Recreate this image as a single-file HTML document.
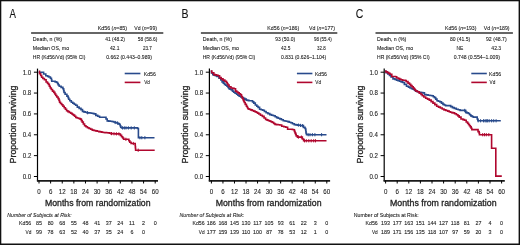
<!DOCTYPE html>
<html><head><meta charset="utf-8"><style>
html,body{margin:0;padding:0;background:#fff;}
body{width:520px;height:245px;overflow:hidden;}
svg{display:block;font-family:"Liberation Sans", sans-serif;will-change:transform;}
text{stroke:#222;stroke-width:0.1px;}
.big{stroke-width:0.3px;}
</style></head><body>
<svg width="520" height="245" viewBox="0 0 520 245">
<rect x="0" y="0" width="520" height="245" fill="#fff"/>
<text x="9.43" y="18.40" font-size="12.4" textLength="6.44" lengthAdjust="spacingAndGlyphs" fill="#111">A</text>
<line x1="31.10" y1="33.00" x2="163.30" y2="33.00" stroke="#333" stroke-width="1.4"/>
<text x="97.81" y="29.80" font-size="6.2" textLength="29.26" lengthAdjust="spacingAndGlyphs" fill="#222">Kd56 (<tspan font-style="italic">n</tspan>=85)</text>
<text x="134.22" y="29.80" font-size="6.2" textLength="22.74" lengthAdjust="spacingAndGlyphs" fill="#222">Vd (<tspan font-style="italic">n</tspan>=99)</text>
<text x="32.82" y="40.60" font-size="6.2" textLength="29.26" lengthAdjust="spacingAndGlyphs" fill="#222">Death, n (%)</text>
<text x="32.82" y="49.70" font-size="6.2" textLength="36.24" lengthAdjust="spacingAndGlyphs" fill="#222">Median OS, mo</text>
<text x="32.84" y="58.50" font-size="6.2" textLength="52.53" lengthAdjust="spacingAndGlyphs" fill="#222">HR (Kd56/Vd) (95% CI)</text>
<text x="105.24" y="40.60" font-size="6.2" textLength="19.72" lengthAdjust="spacingAndGlyphs" fill="#222">41 (48.2)</text>
<text x="137.86" y="40.60" font-size="6.2" textLength="19.40" lengthAdjust="spacingAndGlyphs" fill="#222">58 (58.6)</text>
<text x="109.89" y="49.70" font-size="6.2" textLength="9.50" lengthAdjust="spacingAndGlyphs" fill="#222">42.1</text>
<text x="142.92" y="49.70" font-size="6.2" textLength="8.97" lengthAdjust="spacingAndGlyphs" fill="#222">23.7</text>
<text x="106.30" y="58.50" font-size="6.2" textLength="45.67" lengthAdjust="spacingAndGlyphs" fill="#222">0.662 (0.443–0.989)</text>
<line x1="37.50" y1="68.60" x2="37.50" y2="181.30" stroke="#000" stroke-width="1.2"/>
<line x1="36.90" y1="180.90" x2="158.00" y2="180.90" stroke="#1a1a1a" stroke-width="1.6"/>
<line x1="33.90" y1="176.50" x2="37.50" y2="176.50" stroke="#000" stroke-width="1.0"/>
<text x="22.72" y="178.80" font-size="6.8" textLength="8.51" lengthAdjust="spacingAndGlyphs" fill="#222">0.0</text>
<line x1="33.90" y1="155.64" x2="37.50" y2="155.64" stroke="#000" stroke-width="1.0"/>
<text x="22.80" y="157.94" font-size="6.8" textLength="8.51" lengthAdjust="spacingAndGlyphs" fill="#222">0.2</text>
<line x1="33.90" y1="134.78" x2="37.50" y2="134.78" stroke="#000" stroke-width="1.0"/>
<text x="22.66" y="137.08" font-size="6.8" textLength="8.51" lengthAdjust="spacingAndGlyphs" fill="#222">0.4</text>
<line x1="33.90" y1="113.92" x2="37.50" y2="113.92" stroke="#000" stroke-width="1.0"/>
<text x="22.75" y="116.22" font-size="6.8" textLength="8.51" lengthAdjust="spacingAndGlyphs" fill="#222">0.6</text>
<line x1="33.90" y1="93.06" x2="37.50" y2="93.06" stroke="#000" stroke-width="1.0"/>
<text x="22.75" y="95.36" font-size="6.8" textLength="8.51" lengthAdjust="spacingAndGlyphs" fill="#222">0.8</text>
<line x1="33.90" y1="72.20" x2="37.50" y2="72.20" stroke="#000" stroke-width="1.0"/>
<text x="22.72" y="74.50" font-size="6.8" textLength="8.51" lengthAdjust="spacingAndGlyphs" fill="#222">1.0</text>
<line x1="39.00" y1="180.70" x2="39.00" y2="183.50" stroke="#000" stroke-width="1.0"/>
<text x="37.28" y="193.60" font-size="7.0" textLength="3.43" lengthAdjust="spacingAndGlyphs" fill="#222">0</text>
<line x1="50.62" y1="180.70" x2="50.62" y2="183.50" stroke="#000" stroke-width="1.0"/>
<text x="48.89" y="193.60" font-size="7.0" textLength="3.43" lengthAdjust="spacingAndGlyphs" fill="#222">6</text>
<line x1="62.24" y1="180.70" x2="62.24" y2="183.50" stroke="#000" stroke-width="1.0"/>
<text x="58.74" y="193.60" font-size="7.0" textLength="6.85" lengthAdjust="spacingAndGlyphs" fill="#222">12</text>
<line x1="73.86" y1="180.70" x2="73.86" y2="183.50" stroke="#000" stroke-width="1.0"/>
<text x="70.34" y="193.60" font-size="7.0" textLength="6.85" lengthAdjust="spacingAndGlyphs" fill="#222">18</text>
<line x1="85.48" y1="180.70" x2="85.48" y2="183.50" stroke="#000" stroke-width="1.0"/>
<text x="81.99" y="193.60" font-size="7.0" textLength="6.85" lengthAdjust="spacingAndGlyphs" fill="#222">24</text>
<line x1="97.10" y1="180.70" x2="97.10" y2="183.50" stroke="#000" stroke-width="1.0"/>
<text x="93.68" y="193.60" font-size="7.0" textLength="6.85" lengthAdjust="spacingAndGlyphs" fill="#222">30</text>
<line x1="108.72" y1="180.70" x2="108.72" y2="183.50" stroke="#000" stroke-width="1.0"/>
<text x="105.32" y="193.60" font-size="7.0" textLength="6.85" lengthAdjust="spacingAndGlyphs" fill="#222">36</text>
<line x1="120.34" y1="180.70" x2="120.34" y2="183.50" stroke="#000" stroke-width="1.0"/>
<text x="117.01" y="193.60" font-size="7.0" textLength="6.85" lengthAdjust="spacingAndGlyphs" fill="#222">42</text>
<line x1="131.96" y1="180.70" x2="131.96" y2="183.50" stroke="#000" stroke-width="1.0"/>
<text x="128.60" y="193.60" font-size="7.0" textLength="6.85" lengthAdjust="spacingAndGlyphs" fill="#222">48</text>
<line x1="143.58" y1="180.70" x2="143.58" y2="183.50" stroke="#000" stroke-width="1.0"/>
<text x="140.12" y="193.60" font-size="7.0" textLength="6.85" lengthAdjust="spacingAndGlyphs" fill="#222">54</text>
<line x1="155.20" y1="180.70" x2="155.20" y2="183.50" stroke="#000" stroke-width="1.0"/>
<text x="151.74" y="193.60" font-size="7.0" textLength="6.85" lengthAdjust="spacingAndGlyphs" fill="#222">60</text>
<text x="44.93" y="205.90" font-size="9.4" textLength="105.60" lengthAdjust="spacingAndGlyphs" fill="#222" class="big">Months from randomization</text>
<text transform="translate(16.30,163.43) rotate(-90)" x="0" y="0" font-size="9.4" textLength="77.88" lengthAdjust="spacingAndGlyphs" fill="#222" class="big">Proportion surviving</text>
<line x1="124.70" y1="73.50" x2="140.40" y2="73.50" stroke="#284a8c" stroke-width="1.6"/>
<line x1="124.70" y1="82.40" x2="140.40" y2="82.40" stroke="#b0072e" stroke-width="1.6"/>
<text x="143.82" y="75.70" font-size="6.2" textLength="12.05" lengthAdjust="spacingAndGlyphs" fill="#222">Kd56</text>
<text x="144.23" y="84.20" font-size="6.2" textLength="5.72" lengthAdjust="spacingAndGlyphs" fill="#222">Vd</text>
<text x="7.29" y="216.60" font-size="6.2" textLength="64.47" lengthAdjust="spacingAndGlyphs" fill="#222" font-style="italic">Number of Subjects at Risk:</text>
<text x="19.12" y="225.40" font-size="6.2" textLength="12.15" lengthAdjust="spacingAndGlyphs" fill="#222">Kd56</text>
<text x="25.53" y="234.30" font-size="6.2" textLength="5.82" lengthAdjust="spacingAndGlyphs" fill="#222">Vd</text>
<text x="36.01" y="225.40" font-size="6.1" textLength="5.97" lengthAdjust="spacingAndGlyphs" fill="#222">85</text>
<text x="47.63" y="225.40" font-size="6.1" textLength="5.97" lengthAdjust="spacingAndGlyphs" fill="#222">80</text>
<text x="59.24" y="225.40" font-size="6.1" textLength="5.97" lengthAdjust="spacingAndGlyphs" fill="#222">68</text>
<text x="70.88" y="225.40" font-size="6.1" textLength="5.97" lengthAdjust="spacingAndGlyphs" fill="#222">55</text>
<text x="82.55" y="225.40" font-size="6.1" textLength="5.97" lengthAdjust="spacingAndGlyphs" fill="#222">48</text>
<text x="94.19" y="225.40" font-size="6.1" textLength="5.97" lengthAdjust="spacingAndGlyphs" fill="#222">41</text>
<text x="105.77" y="225.40" font-size="6.1" textLength="5.97" lengthAdjust="spacingAndGlyphs" fill="#222">37</text>
<text x="117.30" y="225.40" font-size="6.1" textLength="5.97" lengthAdjust="spacingAndGlyphs" fill="#222">24</text>
<text x="129.10" y="225.40" font-size="6.1" textLength="5.57" lengthAdjust="spacingAndGlyphs" fill="#222">11</text>
<text x="142.09" y="225.40" font-size="6.1" textLength="2.99" lengthAdjust="spacingAndGlyphs" fill="#222">2</text>
<text x="153.70" y="225.40" font-size="6.1" textLength="2.99" lengthAdjust="spacingAndGlyphs" fill="#222">0</text>
<text x="36.01" y="234.30" font-size="6.1" textLength="5.97" lengthAdjust="spacingAndGlyphs" fill="#222">99</text>
<text x="47.61" y="234.30" font-size="6.1" textLength="5.97" lengthAdjust="spacingAndGlyphs" fill="#222">78</text>
<text x="59.24" y="234.30" font-size="6.1" textLength="5.97" lengthAdjust="spacingAndGlyphs" fill="#222">63</text>
<text x="70.91" y="234.30" font-size="6.1" textLength="5.97" lengthAdjust="spacingAndGlyphs" fill="#222">52</text>
<text x="82.54" y="234.30" font-size="6.1" textLength="5.97" lengthAdjust="spacingAndGlyphs" fill="#222">40</text>
<text x="94.15" y="234.30" font-size="6.1" textLength="5.97" lengthAdjust="spacingAndGlyphs" fill="#222">37</text>
<text x="105.75" y="234.30" font-size="6.1" textLength="5.97" lengthAdjust="spacingAndGlyphs" fill="#222">35</text>
<text x="117.30" y="234.30" font-size="6.1" textLength="5.97" lengthAdjust="spacingAndGlyphs" fill="#222">24</text>
<text x="130.45" y="234.30" font-size="6.1" textLength="2.99" lengthAdjust="spacingAndGlyphs" fill="#222">6</text>
<text x="142.08" y="234.30" font-size="6.1" textLength="2.99" lengthAdjust="spacingAndGlyphs" fill="#222">0</text>
<path d="M38.60,72.30 L42.60,72.30 L42.60,72.30 L43.60,72.30 L43.60,74.00 L44.60,74.00 L45.80,74.00 L45.80,75.80 L47.00,75.80 L47.62,75.80 L47.62,76.40 L48.88,76.40 L48.88,77.00 L49.50,77.00 L50.40,77.00 L50.40,78.20 L51.30,78.20 L51.45,78.20 L51.45,79.75 L51.75,79.75 L51.75,81.30 L51.90,81.30 L54.40,81.30 L54.40,81.30 L55.15,81.30 L55.15,81.90 L56.65,81.90 L56.65,82.50 L57.40,82.50 L57.70,82.50 L57.70,83.75 L58.30,83.75 L58.30,85.00 L58.60,85.00 L59.25,85.00 L59.25,86.20 L59.90,86.20 L61.10,86.20 L61.10,87.40 L62.30,87.40 L62.90,87.40 L62.90,88.70 L63.50,88.70 L63.67,88.70 L63.67,90.60 L64.03,90.60 L64.03,92.50 L64.20,92.50 L65.10,92.50 L65.10,94.30 L66.90,94.30 L66.90,96.10 L67.80,96.10 L68.10,96.10 L68.10,97.65 L68.70,97.65 L68.70,99.20 L69.00,99.20 L69.78,99.20 L69.78,100.70 L71.32,100.70 L71.32,102.20 L72.10,102.20 L72.82,102.20 L72.82,103.23 L74.25,103.23 L74.25,104.27 L75.68,104.27 L75.68,105.30 L76.40,105.30 L77.30,105.30 L77.30,107.10 L78.20,107.10 L79.12,107.10 L79.12,108.35 L80.98,108.35 L80.98,109.60 L81.90,109.60 L82.50,109.60 L82.50,111.40 L83.10,111.40 L83.82,111.40 L83.82,111.83 L85.25,111.83 L85.25,112.27 L86.68,112.27 L86.68,112.70 L87.40,112.70 L88.22,112.70 L88.22,112.87 L89.85,112.87 L89.85,113.03 L91.48,113.03 L91.48,113.20 L92.30,113.20 L92.92,113.20 L92.92,113.55 L94.17,113.55 L94.17,113.90 L94.80,113.90 L95.80,113.90 L95.80,115.40 L96.80,115.40 L97.72,115.40 L97.72,116.30 L99.58,116.30 L99.58,117.20 L100.50,117.20 L105.40,117.20 L105.40,117.20 L106.00,117.20 L106.00,119.05 L107.20,119.05 L107.20,120.90 L107.80,120.90 L108.62,120.90 L108.62,121.10 L110.25,121.10 L110.25,121.30 L111.88,121.30 L111.88,121.50 L112.70,121.50 L113.47,121.50 L113.47,122.00 L115.00,122.00 L115.00,122.50 L116.53,122.50 L116.53,123.00 L117.30,123.00 L117.92,123.00 L117.92,123.60 L119.17,123.60 L119.17,124.20 L119.80,124.20 L120.10,124.20 L120.10,125.70 L120.70,125.70 L120.70,127.20 L121.00,127.20 L121.60,127.20 L121.60,127.90 L122.20,127.90 L136.90,127.90 L136.90,127.90 L137.55,127.90 L137.55,128.50 L138.20,128.50 L138.40,128.50 L138.40,137.70 L154.50,137.70 L154.50,137.70" fill="none" stroke="#284a8c" stroke-width="1.6"/>
<line x1="87.60" y1="111.10" x2="87.60" y2="114.30" stroke="#284a8c" stroke-width="1.0"/>
<line x1="115.20" y1="120.90" x2="115.20" y2="124.10" stroke="#284a8c" stroke-width="1.0"/>
<line x1="117.60" y1="121.40" x2="117.60" y2="124.60" stroke="#284a8c" stroke-width="1.0"/>
<line x1="122.50" y1="126.30" x2="122.50" y2="129.50" stroke="#284a8c" stroke-width="1.0"/>
<line x1="124.30" y1="126.30" x2="124.30" y2="129.50" stroke="#284a8c" stroke-width="1.0"/>
<line x1="126.00" y1="126.30" x2="126.00" y2="129.50" stroke="#284a8c" stroke-width="1.0"/>
<line x1="128.40" y1="126.30" x2="128.40" y2="129.50" stroke="#284a8c" stroke-width="1.0"/>
<line x1="131.20" y1="126.30" x2="131.20" y2="129.50" stroke="#284a8c" stroke-width="1.0"/>
<line x1="134.30" y1="126.30" x2="134.30" y2="129.50" stroke="#284a8c" stroke-width="1.0"/>
<line x1="139.90" y1="136.10" x2="139.90" y2="139.30" stroke="#284a8c" stroke-width="1.0"/>
<line x1="141.80" y1="136.10" x2="141.80" y2="139.30" stroke="#284a8c" stroke-width="1.0"/>
<line x1="144.90" y1="136.10" x2="144.90" y2="139.30" stroke="#284a8c" stroke-width="1.0"/>
<path d="M38.80,71.40 L39.50,71.40 L39.50,73.80 L40.20,73.80 L40.68,73.80 L40.68,75.50 L41.62,75.50 L41.62,77.20 L42.10,77.20 L42.85,77.20 L42.85,78.50 L43.60,78.50 L44.40,78.50 L44.40,79.80 L45.20,79.80 L46.10,79.80 L46.10,82.00 L47.00,82.00 L47.48,82.00 L47.48,83.20 L48.42,83.20 L48.42,84.40 L48.90,84.40 L49.35,84.40 L49.35,86.20 L50.25,86.20 L50.25,88.00 L50.70,88.00 L51.30,88.00 L51.30,89.55 L52.50,89.55 L52.50,91.10 L53.10,91.10 L53.75,91.10 L53.75,92.40 L54.40,92.40 L54.85,92.40 L54.85,93.95 L55.75,93.95 L55.75,95.50 L56.20,95.50 L56.83,95.50 L56.83,97.05 L58.08,97.05 L58.08,98.60 L58.70,98.60 L59.00,98.60 L59.00,100.40 L59.60,100.40 L59.60,102.20 L59.90,102.20 L60.50,102.20 L60.50,103.45 L61.70,103.45 L61.70,104.70 L62.30,104.70 L62.92,104.70 L62.92,106.25 L64.17,106.25 L64.17,107.80 L64.80,107.80 L65.40,107.80 L65.40,109.30 L66.60,109.30 L66.60,110.80 L67.20,110.80 L67.92,110.80 L67.92,111.63 L69.35,111.63 L69.35,112.47 L70.78,112.47 L70.78,113.30 L71.50,113.30 L72.12,113.30 L72.12,114.20 L73.38,114.20 L73.38,115.10 L74.00,115.10 L74.60,115.10 L74.60,116.30 L75.80,116.30 L75.80,117.50 L76.40,117.50 L77.15,117.50 L77.15,118.03 L78.65,118.03 L78.65,118.57 L80.15,118.57 L80.15,119.10 L80.90,119.10 L81.35,119.10 L81.35,120.60 L82.25,120.60 L82.25,122.10 L82.70,122.10 L83.33,122.10 L83.33,123.95 L84.58,123.95 L84.58,125.80 L85.20,125.80 L85.95,125.80 L85.95,126.75 L87.45,126.75 L87.45,127.70 L88.20,127.70 L89.02,127.70 L89.02,128.50 L90.65,128.50 L90.65,129.30 L92.28,129.30 L92.28,130.10 L93.10,130.10 L93.92,130.10 L93.92,130.50 L95.55,130.50 L95.55,130.90 L97.18,130.90 L97.18,131.30 L98.00,131.30 L98.78,131.30 L98.78,131.60 L100.33,131.60 L100.33,131.90 L101.88,131.90 L101.88,132.20 L103.42,132.20 L103.42,132.50 L104.20,132.50 L105.02,132.50 L105.02,132.63 L106.65,132.63 L106.65,132.77 L108.28,132.77 L108.28,132.90 L109.10,132.90 L109.70,132.90 L109.70,133.25 L110.90,133.25 L110.90,133.60 L111.50,133.60 L112.33,133.60 L112.33,133.68 L113.99,133.68 L113.99,133.76 L115.65,133.76 L115.65,133.84 L117.31,133.84 L117.31,133.92 L118.97,133.92 L118.97,134.00 L119.80,134.00 L120.40,134.00 L120.40,135.35 L121.60,135.35 L121.60,136.70 L122.20,136.70 L122.67,136.70 L122.67,138.00 L123.62,138.00 L123.62,139.30 L124.10,139.30 L128.40,139.30 L128.40,139.30 L128.85,139.30 L128.85,140.75 L129.75,140.75 L129.75,142.20 L130.20,142.20 L131.10,142.20 L131.10,143.50 L132.00,143.50 L135.10,143.50 L135.10,143.50 L135.17,143.50 L135.17,145.18 L135.32,145.18 L135.32,146.85 L135.47,146.85 L135.47,148.52 L135.62,148.52 L135.62,150.20 L135.70,150.20 L154.70,150.20 L154.70,150.20" fill="none" stroke="#b0072e" stroke-width="1.6"/>
<line x1="111.50" y1="132.00" x2="111.50" y2="135.20" stroke="#b0072e" stroke-width="1.0"/>
<line x1="114.00" y1="132.16" x2="114.00" y2="135.36" stroke="#b0072e" stroke-width="1.0"/>
<line x1="116.40" y1="132.24" x2="116.40" y2="135.44" stroke="#b0072e" stroke-width="1.0"/>
<line x1="118.90" y1="132.32" x2="118.90" y2="135.52" stroke="#b0072e" stroke-width="1.0"/>
<line x1="125.90" y1="137.70" x2="125.90" y2="140.90" stroke="#b0072e" stroke-width="1.0"/>
<line x1="133.30" y1="141.90" x2="133.30" y2="145.10" stroke="#b0072e" stroke-width="1.0"/>
<line x1="138.20" y1="148.60" x2="138.20" y2="151.80" stroke="#b0072e" stroke-width="1.0"/>
<text x="181.38" y="18.40" font-size="12.4" textLength="7.01" lengthAdjust="spacingAndGlyphs" fill="#111">B</text>
<line x1="200.90" y1="33.00" x2="337.30" y2="33.00" stroke="#333" stroke-width="1.4"/>
<text x="267.32" y="29.80" font-size="6.2" textLength="31.96" lengthAdjust="spacingAndGlyphs" fill="#222">Kd56 (<tspan font-style="italic">n</tspan>=186)</text>
<text x="309.02" y="29.80" font-size="6.2" textLength="25.96" lengthAdjust="spacingAndGlyphs" fill="#222">Vd (<tspan font-style="italic">n</tspan>=177)</text>
<text x="202.72" y="40.60" font-size="6.2" textLength="29.26" lengthAdjust="spacingAndGlyphs" fill="#222">Death, n (%)</text>
<text x="202.72" y="49.70" font-size="6.2" textLength="36.24" lengthAdjust="spacingAndGlyphs" fill="#222">Median OS, mo</text>
<text x="202.74" y="58.50" font-size="6.2" textLength="52.53" lengthAdjust="spacingAndGlyphs" fill="#222">HR (Kd56/Vd) (95% CI)</text>
<text x="275.21" y="40.60" font-size="6.2" textLength="19.85" lengthAdjust="spacingAndGlyphs" fill="#222">93 (50.0)</text>
<text x="313.94" y="40.60" font-size="6.2" textLength="17.79" lengthAdjust="spacingAndGlyphs" fill="#222">98 (55.4)</text>
<text x="281.04" y="49.70" font-size="6.2" textLength="9.31" lengthAdjust="spacingAndGlyphs" fill="#222">42.5</text>
<text x="317.09" y="49.70" font-size="6.2" textLength="8.56" lengthAdjust="spacingAndGlyphs" fill="#222">32.8</text>
<text x="280.95" y="58.50" font-size="6.2" textLength="45.32" lengthAdjust="spacingAndGlyphs" fill="#222">0.831 (0.626–1.104)</text>
<line x1="209.40" y1="68.60" x2="209.40" y2="181.30" stroke="#000" stroke-width="1.2"/>
<line x1="208.80" y1="180.90" x2="330.10" y2="180.90" stroke="#1a1a1a" stroke-width="1.6"/>
<line x1="205.80" y1="176.50" x2="209.40" y2="176.50" stroke="#000" stroke-width="1.0"/>
<text x="194.62" y="178.80" font-size="6.8" textLength="8.51" lengthAdjust="spacingAndGlyphs" fill="#222">0.0</text>
<line x1="205.80" y1="155.64" x2="209.40" y2="155.64" stroke="#000" stroke-width="1.0"/>
<text x="194.70" y="157.94" font-size="6.8" textLength="8.51" lengthAdjust="spacingAndGlyphs" fill="#222">0.2</text>
<line x1="205.80" y1="134.78" x2="209.40" y2="134.78" stroke="#000" stroke-width="1.0"/>
<text x="194.56" y="137.08" font-size="6.8" textLength="8.51" lengthAdjust="spacingAndGlyphs" fill="#222">0.4</text>
<line x1="205.80" y1="113.92" x2="209.40" y2="113.92" stroke="#000" stroke-width="1.0"/>
<text x="194.65" y="116.22" font-size="6.8" textLength="8.51" lengthAdjust="spacingAndGlyphs" fill="#222">0.6</text>
<line x1="205.80" y1="93.06" x2="209.40" y2="93.06" stroke="#000" stroke-width="1.0"/>
<text x="194.65" y="95.36" font-size="6.8" textLength="8.51" lengthAdjust="spacingAndGlyphs" fill="#222">0.8</text>
<line x1="205.80" y1="72.20" x2="209.40" y2="72.20" stroke="#000" stroke-width="1.0"/>
<text x="194.62" y="74.50" font-size="6.8" textLength="8.51" lengthAdjust="spacingAndGlyphs" fill="#222">1.0</text>
<line x1="211.40" y1="180.70" x2="211.40" y2="183.50" stroke="#000" stroke-width="1.0"/>
<text x="209.68" y="193.60" font-size="7.0" textLength="3.43" lengthAdjust="spacingAndGlyphs" fill="#222">0</text>
<line x1="222.94" y1="180.70" x2="222.94" y2="183.50" stroke="#000" stroke-width="1.0"/>
<text x="221.21" y="193.60" font-size="7.0" textLength="3.43" lengthAdjust="spacingAndGlyphs" fill="#222">6</text>
<line x1="234.48" y1="180.70" x2="234.48" y2="183.50" stroke="#000" stroke-width="1.0"/>
<text x="230.98" y="193.60" font-size="7.0" textLength="6.85" lengthAdjust="spacingAndGlyphs" fill="#222">12</text>
<line x1="246.02" y1="180.70" x2="246.02" y2="183.50" stroke="#000" stroke-width="1.0"/>
<text x="242.50" y="193.60" font-size="7.0" textLength="6.85" lengthAdjust="spacingAndGlyphs" fill="#222">18</text>
<line x1="257.56" y1="180.70" x2="257.56" y2="183.50" stroke="#000" stroke-width="1.0"/>
<text x="254.07" y="193.60" font-size="7.0" textLength="6.85" lengthAdjust="spacingAndGlyphs" fill="#222">24</text>
<line x1="269.10" y1="180.70" x2="269.10" y2="183.50" stroke="#000" stroke-width="1.0"/>
<text x="265.68" y="193.60" font-size="7.0" textLength="6.85" lengthAdjust="spacingAndGlyphs" fill="#222">30</text>
<line x1="280.64" y1="180.70" x2="280.64" y2="183.50" stroke="#000" stroke-width="1.0"/>
<text x="277.24" y="193.60" font-size="7.0" textLength="6.85" lengthAdjust="spacingAndGlyphs" fill="#222">36</text>
<line x1="292.18" y1="180.70" x2="292.18" y2="183.50" stroke="#000" stroke-width="1.0"/>
<text x="288.85" y="193.60" font-size="7.0" textLength="6.85" lengthAdjust="spacingAndGlyphs" fill="#222">42</text>
<line x1="303.72" y1="180.70" x2="303.72" y2="183.50" stroke="#000" stroke-width="1.0"/>
<text x="300.36" y="193.60" font-size="7.0" textLength="6.85" lengthAdjust="spacingAndGlyphs" fill="#222">48</text>
<line x1="315.26" y1="180.70" x2="315.26" y2="183.50" stroke="#000" stroke-width="1.0"/>
<text x="311.80" y="193.60" font-size="7.0" textLength="6.85" lengthAdjust="spacingAndGlyphs" fill="#222">54</text>
<line x1="326.80" y1="180.70" x2="326.80" y2="183.50" stroke="#000" stroke-width="1.0"/>
<text x="323.34" y="193.60" font-size="7.0" textLength="6.85" lengthAdjust="spacingAndGlyphs" fill="#222">60</text>
<text x="215.73" y="205.90" font-size="9.4" textLength="105.80" lengthAdjust="spacingAndGlyphs" fill="#222" class="big">Months from randomization</text>
<text transform="translate(188.20,163.43) rotate(-90)" x="0" y="0" font-size="9.4" textLength="77.88" lengthAdjust="spacingAndGlyphs" fill="#222" class="big">Proportion surviving</text>
<line x1="296.90" y1="73.50" x2="312.40" y2="73.50" stroke="#284a8c" stroke-width="1.6"/>
<line x1="296.90" y1="82.40" x2="312.40" y2="82.40" stroke="#b0072e" stroke-width="1.6"/>
<text x="314.92" y="75.70" font-size="6.2" textLength="12.05" lengthAdjust="spacingAndGlyphs" fill="#222">Kd56</text>
<text x="315.33" y="84.20" font-size="6.2" textLength="5.72" lengthAdjust="spacingAndGlyphs" fill="#222">Vd</text>
<text x="179.59" y="216.60" font-size="6.2" textLength="64.67" lengthAdjust="spacingAndGlyphs" fill="#222" font-style="italic">Number of Subjects at Risk:</text>
<text x="192.42" y="225.40" font-size="6.2" textLength="12.15" lengthAdjust="spacingAndGlyphs" fill="#222">Kd56</text>
<text x="198.83" y="234.30" font-size="6.2" textLength="5.82" lengthAdjust="spacingAndGlyphs" fill="#222">Vd</text>
<text x="206.84" y="225.40" font-size="6.1" textLength="8.96" lengthAdjust="spacingAndGlyphs" fill="#222">186</text>
<text x="218.38" y="225.40" font-size="6.1" textLength="8.96" lengthAdjust="spacingAndGlyphs" fill="#222">168</text>
<text x="229.91" y="225.40" font-size="6.1" textLength="8.96" lengthAdjust="spacingAndGlyphs" fill="#222">145</text>
<text x="241.44" y="225.40" font-size="6.1" textLength="8.96" lengthAdjust="spacingAndGlyphs" fill="#222">130</text>
<text x="253.22" y="225.40" font-size="6.1" textLength="8.56" lengthAdjust="spacingAndGlyphs" fill="#222">117</text>
<text x="264.53" y="225.40" font-size="6.1" textLength="8.96" lengthAdjust="spacingAndGlyphs" fill="#222">105</text>
<text x="277.65" y="225.40" font-size="6.1" textLength="5.97" lengthAdjust="spacingAndGlyphs" fill="#222">93</text>
<text x="289.19" y="225.40" font-size="6.1" textLength="5.97" lengthAdjust="spacingAndGlyphs" fill="#222">61</text>
<text x="300.74" y="225.40" font-size="6.1" textLength="5.97" lengthAdjust="spacingAndGlyphs" fill="#222">22</text>
<text x="313.78" y="225.40" font-size="6.1" textLength="2.99" lengthAdjust="spacingAndGlyphs" fill="#222">3</text>
<text x="325.30" y="225.40" font-size="6.1" textLength="2.99" lengthAdjust="spacingAndGlyphs" fill="#222">0</text>
<text x="206.86" y="234.30" font-size="6.1" textLength="8.96" lengthAdjust="spacingAndGlyphs" fill="#222">177</text>
<text x="218.38" y="234.30" font-size="6.1" textLength="8.96" lengthAdjust="spacingAndGlyphs" fill="#222">159</text>
<text x="229.92" y="234.30" font-size="6.1" textLength="8.96" lengthAdjust="spacingAndGlyphs" fill="#222">139</text>
<text x="241.65" y="234.30" font-size="6.1" textLength="8.56" lengthAdjust="spacingAndGlyphs" fill="#222">110</text>
<text x="252.98" y="234.30" font-size="6.1" textLength="8.96" lengthAdjust="spacingAndGlyphs" fill="#222">100</text>
<text x="266.14" y="234.30" font-size="6.1" textLength="5.97" lengthAdjust="spacingAndGlyphs" fill="#222">87</text>
<text x="277.63" y="234.30" font-size="6.1" textLength="5.97" lengthAdjust="spacingAndGlyphs" fill="#222">78</text>
<text x="289.21" y="234.30" font-size="6.1" textLength="5.97" lengthAdjust="spacingAndGlyphs" fill="#222">53</text>
<text x="300.67" y="234.30" font-size="6.1" textLength="5.97" lengthAdjust="spacingAndGlyphs" fill="#222">12</text>
<text x="313.70" y="234.30" font-size="6.1" textLength="2.99" lengthAdjust="spacingAndGlyphs" fill="#222">1</text>
<text x="325.30" y="234.30" font-size="6.1" textLength="2.99" lengthAdjust="spacingAndGlyphs" fill="#222">0</text>
<path d="M210.70,71.40 L211.40,71.40 L211.40,73.00 L212.80,73.00 L212.80,74.60 L213.50,74.60 L214.12,74.60 L214.12,75.20 L215.38,75.20 L215.38,75.80 L216.00,75.80 L216.90,75.80 L216.90,76.40 L217.80,76.40 L219.00,76.40 L219.00,78.20 L220.20,78.20 L220.82,78.20 L220.82,80.05 L222.07,80.05 L222.07,81.90 L222.70,81.90 L223.30,81.90 L223.30,83.15 L224.50,83.15 L224.50,84.40 L225.10,84.40 L225.72,84.40 L225.72,85.30 L226.97,85.30 L226.97,86.20 L227.60,86.20 L228.05,86.20 L228.05,87.45 L228.95,87.45 L228.95,88.70 L229.40,88.70 L230.03,88.70 L230.03,89.30 L231.28,89.30 L231.28,89.90 L231.90,89.90 L232.50,89.90 L232.50,91.10 L233.70,91.10 L233.70,92.30 L234.30,92.30 L235.08,92.30 L235.08,93.25 L236.62,93.25 L236.62,94.20 L237.40,94.20 L237.90,94.20 L237.90,95.20 L238.40,95.20 L239.18,95.20 L239.18,96.10 L240.72,96.10 L240.72,97.00 L241.50,97.00 L242.12,97.00 L242.12,97.60 L243.38,97.60 L243.38,98.20 L244.00,98.20 L244.75,98.20 L244.75,99.15 L246.25,99.15 L246.25,100.10 L247.00,100.10 L247.62,100.10 L247.62,100.40 L248.88,100.40 L248.88,100.70 L249.50,100.70 L251.90,100.70 L251.90,100.70 L252.53,100.70 L252.53,101.90 L253.78,101.90 L253.78,103.10 L254.40,103.10 L255.30,103.10 L255.30,105.00 L256.20,105.00 L256.82,105.00 L256.82,106.20 L258.07,106.20 L258.07,107.40 L258.70,107.40 L259.60,107.40 L259.60,109.30 L260.50,109.30 L261.25,109.30 L261.25,109.75 L262.75,109.75 L262.75,110.20 L263.50,110.20 L264.38,110.20 L264.38,111.45 L266.12,111.45 L266.12,112.70 L267.00,112.70 L267.93,112.70 L267.93,113.65 L269.77,113.65 L269.77,114.60 L270.70,114.60 L271.62,114.60 L271.62,115.20 L273.47,115.20 L273.47,115.80 L274.40,115.80 L275.15,115.80 L275.15,116.70 L276.65,116.70 L276.65,117.60 L277.40,117.60 L278.17,117.60 L278.17,118.25 L279.73,118.25 L279.73,118.90 L280.50,118.90 L281.43,118.90 L281.43,119.80 L283.27,119.80 L283.27,120.70 L284.20,120.70 L284.90,120.70 L284.90,121.00 L286.30,121.00 L286.30,121.30 L287.70,121.30 L287.70,121.60 L288.40,121.60 L289.17,121.60 L289.17,122.20 L290.73,122.20 L290.73,122.80 L291.50,122.80 L292.43,122.80 L292.43,123.70 L294.27,123.70 L294.27,124.60 L295.20,124.60 L295.95,124.60 L295.95,124.85 L297.45,124.85 L297.45,125.10 L298.20,125.10 L298.92,125.10 L298.92,125.27 L300.35,125.27 L300.35,125.43 L301.78,125.43 L301.78,125.60 L302.50,125.60 L303.45,125.60 L303.45,127.40 L304.40,127.40 L305.00,127.40 L305.00,128.50 L305.60,128.50 L305.70,128.50 L305.70,130.17 L305.90,130.17 L305.90,131.83 L306.10,131.83 L306.10,133.50 L306.20,133.50 L306.60,133.50 L306.60,134.70 L307.00,134.70 L326.50,134.70 L326.50,134.70" fill="none" stroke="#284a8c" stroke-width="1.6"/>
<line x1="298.40" y1="123.50" x2="298.40" y2="126.70" stroke="#284a8c" stroke-width="1.0"/>
<line x1="300.50" y1="123.83" x2="300.50" y2="127.03" stroke="#284a8c" stroke-width="1.0"/>
<line x1="302.60" y1="124.00" x2="302.60" y2="127.20" stroke="#284a8c" stroke-width="1.0"/>
<line x1="308.20" y1="133.10" x2="308.20" y2="136.30" stroke="#284a8c" stroke-width="1.0"/>
<line x1="310.00" y1="133.10" x2="310.00" y2="136.30" stroke="#284a8c" stroke-width="1.0"/>
<line x1="312.40" y1="133.10" x2="312.40" y2="136.30" stroke="#284a8c" stroke-width="1.0"/>
<line x1="314.90" y1="133.10" x2="314.90" y2="136.30" stroke="#284a8c" stroke-width="1.0"/>
<line x1="321.60" y1="133.10" x2="321.60" y2="136.30" stroke="#284a8c" stroke-width="1.0"/>
<path d="M210.70,71.00 L211.80,71.00 L211.80,72.70 L212.90,72.70 L213.80,72.70 L213.80,74.60 L214.70,74.60 L215.32,74.60 L215.32,74.90 L216.57,74.90 L216.57,75.20 L217.20,75.20 L218.10,75.20 L218.10,75.80 L219.00,75.80 L219.60,75.80 L219.60,77.60 L220.20,77.60 L221.15,77.60 L221.15,78.90 L222.10,78.90 L223.00,78.90 L223.00,80.10 L223.90,80.10 L224.85,80.10 L224.85,81.30 L225.80,81.30 L226.40,81.30 L226.40,82.50 L227.00,82.50 L227.30,82.50 L227.30,83.75 L227.90,83.75 L227.90,85.00 L228.20,85.00 L229.10,85.00 L229.10,86.80 L230.00,86.80 L230.95,86.80 L230.95,88.00 L231.90,88.00 L232.65,88.00 L232.65,88.35 L234.15,88.35 L234.15,88.70 L234.90,88.70 L235.55,88.70 L235.55,91.10 L236.20,91.10 L236.80,91.10 L236.80,92.00 L238.00,92.00 L238.00,92.90 L238.60,92.90 L239.22,92.90 L239.22,93.85 L240.47,93.85 L240.47,94.80 L241.10,94.80 L241.50,94.80 L241.50,96.50 L242.30,96.50 L242.30,98.20 L242.70,98.20 L243.02,98.20 L243.02,99.63 L243.65,99.63 L243.65,101.07 L244.28,101.07 L244.28,102.50 L244.60,102.50 L245.20,102.50 L245.20,104.35 L246.40,104.35 L246.40,106.20 L247.00,106.20 L247.30,106.20 L247.30,107.45 L247.90,107.45 L247.90,108.70 L248.20,108.70 L248.97,108.70 L248.97,109.30 L250.53,109.30 L250.53,109.90 L251.30,109.90 L252.08,109.90 L252.08,110.50 L253.62,110.50 L253.62,111.10 L254.40,111.10 L255.00,111.10 L255.00,111.70 L256.20,111.70 L256.20,112.30 L256.80,112.30 L257.48,112.30 L257.48,113.15 L258.82,113.15 L258.82,114.00 L259.50,114.00 L260.45,114.00 L260.45,115.20 L262.35,115.20 L262.35,116.40 L263.30,116.40 L264.07,116.40 L264.07,117.95 L265.62,117.95 L265.62,119.50 L266.40,119.50 L267.12,119.50 L267.12,120.10 L268.55,120.10 L268.55,120.70 L269.98,120.70 L269.98,121.30 L270.70,121.30 L271.30,121.30 L271.30,121.90 L272.50,121.90 L272.50,122.50 L273.10,122.50 L273.73,122.50 L273.73,123.45 L274.98,123.45 L274.98,124.40 L275.60,124.40 L276.42,124.40 L276.42,124.60 L278.05,124.60 L278.05,124.80 L279.68,124.80 L279.68,125.00 L280.50,125.00 L281.70,125.00 L281.70,126.20 L282.90,126.20 L283.82,126.20 L283.82,126.70 L285.68,126.70 L285.68,127.20 L286.60,127.20 L287.60,127.20 L287.60,129.20 L288.60,129.20 L291.60,129.20 L291.60,129.20 L292.23,129.20 L292.23,129.50 L293.48,129.50 L293.48,129.80 L294.10,129.80 L294.40,129.80 L294.40,131.35 L295.00,131.35 L295.00,132.90 L295.30,132.90 L295.60,132.90 L295.60,134.40 L296.20,134.40 L296.20,135.90 L296.50,135.90 L297.45,135.90 L297.45,137.10 L298.40,137.10 L301.40,137.10 L301.40,137.10 L302.35,137.10 L302.35,139.00 L303.30,139.00 L303.60,139.00 L303.60,140.80 L303.90,140.80 L326.50,140.80 L326.50,140.80" fill="none" stroke="#b0072e" stroke-width="1.6"/>
<line x1="298.40" y1="135.50" x2="298.40" y2="138.70" stroke="#b0072e" stroke-width="1.0"/>
<line x1="301.40" y1="135.50" x2="301.40" y2="138.70" stroke="#b0072e" stroke-width="1.0"/>
<line x1="304.50" y1="139.20" x2="304.50" y2="142.40" stroke="#b0072e" stroke-width="1.0"/>
<line x1="306.30" y1="139.20" x2="306.30" y2="142.40" stroke="#b0072e" stroke-width="1.0"/>
<line x1="308.80" y1="139.20" x2="308.80" y2="142.40" stroke="#b0072e" stroke-width="1.0"/>
<line x1="311.20" y1="139.20" x2="311.20" y2="142.40" stroke="#b0072e" stroke-width="1.0"/>
<line x1="313.70" y1="139.20" x2="313.70" y2="142.40" stroke="#b0072e" stroke-width="1.0"/>
<line x1="315.50" y1="139.20" x2="315.50" y2="142.40" stroke="#b0072e" stroke-width="1.0"/>
<text x="355.73" y="18.40" font-size="12.4" textLength="7.54" lengthAdjust="spacingAndGlyphs" fill="#111">C</text>
<line x1="375.50" y1="33.00" x2="512.90" y2="33.00" stroke="#333" stroke-width="1.4"/>
<text x="445.02" y="29.80" font-size="6.2" textLength="31.45" lengthAdjust="spacingAndGlyphs" fill="#222">Kd56 (<tspan font-style="italic">n</tspan>=193)</text>
<text x="483.72" y="29.80" font-size="6.2" textLength="25.85" lengthAdjust="spacingAndGlyphs" fill="#222">Vd (<tspan font-style="italic">n</tspan>=189)</text>
<text x="377.02" y="40.60" font-size="6.2" textLength="29.26" lengthAdjust="spacingAndGlyphs" fill="#222">Death, n (%)</text>
<text x="377.02" y="49.70" font-size="6.2" textLength="36.24" lengthAdjust="spacingAndGlyphs" fill="#222">Median OS, mo</text>
<text x="377.04" y="58.50" font-size="6.2" textLength="52.53" lengthAdjust="spacingAndGlyphs" fill="#222">HR (Kd56/Vd) (95% CI)</text>
<text x="450.04" y="40.60" font-size="6.2" textLength="20.13" lengthAdjust="spacingAndGlyphs" fill="#222">80 (41.5)</text>
<text x="486.00" y="40.60" font-size="6.2" textLength="20.67" lengthAdjust="spacingAndGlyphs" fill="#222">92 (48.7)</text>
<text x="456.55" y="49.70" font-size="6.2" textLength="6.81" lengthAdjust="spacingAndGlyphs" fill="#222">NE</text>
<text x="491.34" y="49.70" font-size="6.2" textLength="9.84" lengthAdjust="spacingAndGlyphs" fill="#222">42.3</text>
<text x="453.85" y="58.50" font-size="6.2" textLength="46.13" lengthAdjust="spacingAndGlyphs" fill="#222">0.748 (0.554–1.009)</text>
<line x1="384.20" y1="68.60" x2="384.20" y2="181.30" stroke="#000" stroke-width="1.2"/>
<line x1="383.60" y1="180.90" x2="504.80" y2="180.90" stroke="#1a1a1a" stroke-width="1.6"/>
<line x1="380.60" y1="176.50" x2="384.20" y2="176.50" stroke="#000" stroke-width="1.0"/>
<text x="369.42" y="178.80" font-size="6.8" textLength="8.51" lengthAdjust="spacingAndGlyphs" fill="#222">0.0</text>
<line x1="380.60" y1="155.64" x2="384.20" y2="155.64" stroke="#000" stroke-width="1.0"/>
<text x="369.50" y="157.94" font-size="6.8" textLength="8.51" lengthAdjust="spacingAndGlyphs" fill="#222">0.2</text>
<line x1="380.60" y1="134.78" x2="384.20" y2="134.78" stroke="#000" stroke-width="1.0"/>
<text x="369.36" y="137.08" font-size="6.8" textLength="8.51" lengthAdjust="spacingAndGlyphs" fill="#222">0.4</text>
<line x1="380.60" y1="113.92" x2="384.20" y2="113.92" stroke="#000" stroke-width="1.0"/>
<text x="369.45" y="116.22" font-size="6.8" textLength="8.51" lengthAdjust="spacingAndGlyphs" fill="#222">0.6</text>
<line x1="380.60" y1="93.06" x2="384.20" y2="93.06" stroke="#000" stroke-width="1.0"/>
<text x="369.45" y="95.36" font-size="6.8" textLength="8.51" lengthAdjust="spacingAndGlyphs" fill="#222">0.8</text>
<line x1="380.60" y1="72.20" x2="384.20" y2="72.20" stroke="#000" stroke-width="1.0"/>
<text x="369.42" y="74.50" font-size="6.8" textLength="8.51" lengthAdjust="spacingAndGlyphs" fill="#222">1.0</text>
<line x1="385.60" y1="180.70" x2="385.60" y2="183.50" stroke="#000" stroke-width="1.0"/>
<text x="383.88" y="193.60" font-size="7.0" textLength="3.43" lengthAdjust="spacingAndGlyphs" fill="#222">0</text>
<line x1="397.20" y1="180.70" x2="397.20" y2="183.50" stroke="#000" stroke-width="1.0"/>
<text x="395.47" y="193.60" font-size="7.0" textLength="3.43" lengthAdjust="spacingAndGlyphs" fill="#222">6</text>
<line x1="408.80" y1="180.70" x2="408.80" y2="183.50" stroke="#000" stroke-width="1.0"/>
<text x="405.30" y="193.60" font-size="7.0" textLength="6.85" lengthAdjust="spacingAndGlyphs" fill="#222">12</text>
<line x1="420.40" y1="180.70" x2="420.40" y2="183.50" stroke="#000" stroke-width="1.0"/>
<text x="416.88" y="193.60" font-size="7.0" textLength="6.85" lengthAdjust="spacingAndGlyphs" fill="#222">18</text>
<line x1="432.00" y1="180.70" x2="432.00" y2="183.50" stroke="#000" stroke-width="1.0"/>
<text x="428.51" y="193.60" font-size="7.0" textLength="6.85" lengthAdjust="spacingAndGlyphs" fill="#222">24</text>
<line x1="443.60" y1="180.70" x2="443.60" y2="183.50" stroke="#000" stroke-width="1.0"/>
<text x="440.18" y="193.60" font-size="7.0" textLength="6.85" lengthAdjust="spacingAndGlyphs" fill="#222">30</text>
<line x1="455.20" y1="180.70" x2="455.20" y2="183.50" stroke="#000" stroke-width="1.0"/>
<text x="451.80" y="193.60" font-size="7.0" textLength="6.85" lengthAdjust="spacingAndGlyphs" fill="#222">36</text>
<line x1="466.80" y1="180.70" x2="466.80" y2="183.50" stroke="#000" stroke-width="1.0"/>
<text x="463.47" y="193.60" font-size="7.0" textLength="6.85" lengthAdjust="spacingAndGlyphs" fill="#222">42</text>
<line x1="478.40" y1="180.70" x2="478.40" y2="183.50" stroke="#000" stroke-width="1.0"/>
<text x="475.04" y="193.60" font-size="7.0" textLength="6.85" lengthAdjust="spacingAndGlyphs" fill="#222">48</text>
<line x1="490.00" y1="180.70" x2="490.00" y2="183.50" stroke="#000" stroke-width="1.0"/>
<text x="486.54" y="193.60" font-size="7.0" textLength="6.85" lengthAdjust="spacingAndGlyphs" fill="#222">54</text>
<line x1="501.60" y1="180.70" x2="501.60" y2="183.50" stroke="#000" stroke-width="1.0"/>
<text x="498.14" y="193.60" font-size="7.0" textLength="6.85" lengthAdjust="spacingAndGlyphs" fill="#222">60</text>
<text x="390.02" y="205.90" font-size="9.4" textLength="106.51" lengthAdjust="spacingAndGlyphs" fill="#222" class="big">Months from randomization</text>
<text transform="translate(363.00,163.43) rotate(-90)" x="0" y="0" font-size="9.4" textLength="77.88" lengthAdjust="spacingAndGlyphs" fill="#222" class="big">Proportion surviving</text>
<line x1="471.30" y1="73.50" x2="486.80" y2="73.50" stroke="#284a8c" stroke-width="1.6"/>
<line x1="471.30" y1="82.40" x2="486.80" y2="82.40" stroke="#b0072e" stroke-width="1.6"/>
<text x="489.12" y="75.70" font-size="6.2" textLength="12.05" lengthAdjust="spacingAndGlyphs" fill="#222">Kd56</text>
<text x="489.53" y="84.20" font-size="6.2" textLength="5.72" lengthAdjust="spacingAndGlyphs" fill="#222">Vd</text>
<text x="353.82" y="216.60" font-size="6.2" textLength="64.91" lengthAdjust="spacingAndGlyphs" fill="#222">Number of Subjects at Risk:</text>
<text x="365.52" y="225.40" font-size="6.2" textLength="12.15" lengthAdjust="spacingAndGlyphs" fill="#222">Kd56</text>
<text x="371.93" y="234.30" font-size="6.2" textLength="5.82" lengthAdjust="spacingAndGlyphs" fill="#222">Vd</text>
<text x="381.04" y="225.40" font-size="6.1" textLength="8.96" lengthAdjust="spacingAndGlyphs" fill="#222">193</text>
<text x="392.66" y="225.40" font-size="6.1" textLength="8.96" lengthAdjust="spacingAndGlyphs" fill="#222">177</text>
<text x="404.24" y="225.40" font-size="6.1" textLength="8.96" lengthAdjust="spacingAndGlyphs" fill="#222">163</text>
<text x="415.85" y="225.40" font-size="6.1" textLength="8.96" lengthAdjust="spacingAndGlyphs" fill="#222">151</text>
<text x="427.40" y="225.40" font-size="6.1" textLength="8.96" lengthAdjust="spacingAndGlyphs" fill="#222">144</text>
<text x="439.06" y="225.40" font-size="6.1" textLength="8.96" lengthAdjust="spacingAndGlyphs" fill="#222">127</text>
<text x="450.84" y="225.40" font-size="6.1" textLength="8.56" lengthAdjust="spacingAndGlyphs" fill="#222">118</text>
<text x="463.83" y="225.40" font-size="6.1" textLength="5.97" lengthAdjust="spacingAndGlyphs" fill="#222">81</text>
<text x="475.42" y="225.40" font-size="6.1" textLength="5.97" lengthAdjust="spacingAndGlyphs" fill="#222">27</text>
<text x="488.52" y="225.40" font-size="6.1" textLength="2.99" lengthAdjust="spacingAndGlyphs" fill="#222">4</text>
<text x="500.10" y="225.40" font-size="6.1" textLength="2.99" lengthAdjust="spacingAndGlyphs" fill="#222">0</text>
<text x="381.04" y="234.30" font-size="6.1" textLength="8.96" lengthAdjust="spacingAndGlyphs" fill="#222">189</text>
<text x="392.65" y="234.30" font-size="6.1" textLength="8.96" lengthAdjust="spacingAndGlyphs" fill="#222">171</text>
<text x="404.24" y="234.30" font-size="6.1" textLength="8.96" lengthAdjust="spacingAndGlyphs" fill="#222">156</text>
<text x="415.83" y="234.30" font-size="6.1" textLength="8.96" lengthAdjust="spacingAndGlyphs" fill="#222">135</text>
<text x="427.64" y="234.30" font-size="6.1" textLength="8.56" lengthAdjust="spacingAndGlyphs" fill="#222">118</text>
<text x="439.06" y="234.30" font-size="6.1" textLength="8.96" lengthAdjust="spacingAndGlyphs" fill="#222">107</text>
<text x="452.23" y="234.30" font-size="6.1" textLength="5.97" lengthAdjust="spacingAndGlyphs" fill="#222">97</text>
<text x="463.83" y="234.30" font-size="6.1" textLength="5.97" lengthAdjust="spacingAndGlyphs" fill="#222">59</text>
<text x="475.39" y="234.30" font-size="6.1" textLength="5.97" lengthAdjust="spacingAndGlyphs" fill="#222">20</text>
<text x="488.52" y="234.30" font-size="6.1" textLength="2.99" lengthAdjust="spacingAndGlyphs" fill="#222">3</text>
<text x="500.10" y="234.30" font-size="6.1" textLength="2.99" lengthAdjust="spacingAndGlyphs" fill="#222">0</text>
<path d="M385.10,71.30 L386.00,71.30 L386.00,72.65 L387.80,72.65 L387.80,74.00 L388.70,74.00 L389.48,74.00 L389.48,75.50 L391.02,75.50 L391.02,77.00 L391.80,77.00 L393.00,77.00 L393.00,78.90 L394.20,78.90 L394.98,78.90 L394.98,79.50 L396.52,79.50 L396.52,80.10 L397.30,80.10 L398.07,80.10 L398.07,80.70 L399.62,80.70 L399.62,81.30 L400.40,81.30 L401.15,81.30 L401.15,81.90 L402.65,81.90 L402.65,82.50 L403.40,82.50 L404.35,82.50 L404.35,84.40 L405.30,84.40 L406.50,84.40 L406.50,86.20 L407.70,86.20 L408.48,86.20 L408.48,87.10 L410.02,87.10 L410.02,88.00 L410.80,88.00 L411.55,88.00 L411.55,88.65 L413.05,88.65 L413.05,89.30 L413.80,89.30 L414.43,89.30 L414.43,90.20 L415.68,90.20 L415.68,91.10 L416.30,91.10 L417.23,91.10 L417.23,91.70 L419.07,91.70 L419.07,92.30 L420.00,92.30 L420.90,92.30 L420.90,92.60 L422.70,92.60 L422.70,92.90 L423.60,92.90 L424.45,92.90 L424.45,94.60 L425.30,94.60 L426.23,94.60 L426.23,94.90 L428.07,94.90 L428.07,95.20 L429.00,95.20 L429.93,95.20 L429.93,95.50 L431.77,95.50 L431.77,95.80 L432.70,95.80 L433.30,95.80 L433.30,96.70 L434.50,96.70 L434.50,97.60 L435.10,97.60 L435.73,97.60 L435.73,99.15 L436.98,99.15 L436.98,100.70 L437.60,100.70 L438.38,100.70 L438.38,101.30 L439.93,101.30 L439.93,101.90 L440.70,101.90 L441.45,101.90 L441.45,103.15 L442.95,103.15 L442.95,104.40 L443.70,104.40 L444.32,104.40 L444.32,105.00 L445.57,105.00 L445.57,105.60 L446.20,105.60 L449.80,105.60 L449.80,105.60 L450.68,105.60 L450.68,106.60 L452.43,106.60 L452.43,107.60 L453.30,107.60 L454.30,107.60 L454.30,108.40 L456.30,108.40 L456.30,109.20 L457.30,109.20 L458.23,109.20 L458.23,109.80 L460.07,109.80 L460.07,110.40 L461.00,110.40 L464.70,110.40 L464.70,110.40 L465.60,110.40 L465.60,112.20 L466.50,112.20 L467.12,112.20 L467.12,112.85 L468.38,112.85 L468.38,113.50 L469.00,113.50 L469.60,113.50 L469.60,114.70 L470.80,114.70 L470.80,115.90 L471.40,115.90 L472.02,115.90 L472.02,116.50 L473.27,116.50 L473.27,117.10 L473.90,117.10 L476.90,117.10 L476.90,117.10 L477.22,117.10 L477.22,118.95 L477.88,118.95 L477.88,120.80 L478.20,120.80 L500.80,120.80 L500.80,120.80" fill="none" stroke="#284a8c" stroke-width="1.6"/>
<line x1="464.70" y1="108.80" x2="464.70" y2="112.00" stroke="#284a8c" stroke-width="1.0"/>
<line x1="466.00" y1="110.60" x2="466.00" y2="113.80" stroke="#284a8c" stroke-width="1.0"/>
<line x1="478.20" y1="119.20" x2="478.20" y2="122.40" stroke="#284a8c" stroke-width="1.0"/>
<line x1="480.60" y1="119.20" x2="480.60" y2="122.40" stroke="#284a8c" stroke-width="1.0"/>
<line x1="483.50" y1="119.20" x2="483.50" y2="122.40" stroke="#284a8c" stroke-width="1.0"/>
<line x1="485.10" y1="119.20" x2="485.10" y2="122.40" stroke="#284a8c" stroke-width="1.0"/>
<line x1="486.30" y1="119.20" x2="486.30" y2="122.40" stroke="#284a8c" stroke-width="1.0"/>
<line x1="487.60" y1="119.20" x2="487.60" y2="122.40" stroke="#284a8c" stroke-width="1.0"/>
<line x1="489.20" y1="119.20" x2="489.20" y2="122.40" stroke="#284a8c" stroke-width="1.0"/>
<line x1="491.60" y1="119.20" x2="491.60" y2="122.40" stroke="#284a8c" stroke-width="1.0"/>
<line x1="493.70" y1="119.20" x2="493.70" y2="122.40" stroke="#284a8c" stroke-width="1.0"/>
<line x1="496.10" y1="119.20" x2="496.10" y2="122.40" stroke="#284a8c" stroke-width="1.0"/>
<path d="M385.10,71.10 L385.85,71.10 L385.85,71.85 L387.35,71.85 L387.35,72.60 L388.10,72.60 L388.73,72.60 L388.73,73.40 L389.98,73.40 L389.98,74.20 L390.60,74.20 L391.80,74.20 L391.80,76.50 L393.00,76.50 L395.50,76.50 L395.50,76.70 L396.70,76.70 L396.70,78.00 L397.90,78.00 L398.52,78.00 L398.52,78.65 L399.77,78.65 L399.77,79.30 L400.40,79.30 L401.15,79.30 L401.15,79.80 L402.65,79.80 L402.65,80.30 L403.40,80.30 L405.30,80.30 L405.30,80.50 L406.20,80.50 L406.20,81.60 L407.10,81.60 L408.00,81.60 L408.00,83.10 L408.90,83.10 L409.52,83.10 L409.52,84.35 L410.77,84.35 L410.77,85.60 L411.40,85.60 L412.00,85.60 L412.00,86.80 L413.20,86.80 L413.20,88.00 L413.80,88.00 L414.27,88.00 L414.27,89.25 L415.23,89.25 L415.23,90.50 L415.70,90.50 L416.30,90.50 L416.30,91.10 L417.50,91.10 L417.50,91.70 L418.10,91.70 L419.25,91.70 L419.25,93.30 L420.40,93.30 L421.02,93.30 L421.02,94.55 L422.27,94.55 L422.27,95.80 L422.90,95.80 L423.82,95.80 L423.82,97.00 L425.68,97.00 L425.68,98.20 L426.60,98.20 L427.50,98.20 L427.50,99.15 L429.30,99.15 L429.30,100.10 L430.20,100.10 L431.12,100.10 L431.12,101.60 L432.97,101.60 L432.97,103.10 L433.90,103.10 L434.82,103.10 L434.82,104.65 L436.68,104.65 L436.68,106.20 L437.60,106.20 L438.53,106.20 L438.53,107.10 L440.38,107.10 L440.38,108.00 L441.30,108.00 L442.20,108.00 L442.20,108.95 L444.00,108.95 L444.00,109.90 L444.90,109.90 L445.82,109.90 L445.82,110.50 L447.68,110.50 L447.68,111.10 L448.60,111.10 L449.23,111.10 L449.23,111.70 L450.48,111.70 L450.48,112.30 L451.10,112.30 L451.75,112.30 L451.75,112.60 L453.05,112.60 L453.05,112.90 L453.70,112.90 L454.60,112.90 L454.60,113.80 L456.40,113.80 L456.40,114.70 L457.30,114.70 L457.93,114.70 L457.93,115.90 L459.18,115.90 L459.18,117.10 L459.80,117.10 L461.00,117.10 L461.00,119.00 L462.20,119.00 L462.98,119.00 L462.98,119.60 L464.52,119.60 L464.52,120.20 L465.30,120.20 L466.20,120.20 L466.20,122.00 L467.10,122.00 L467.58,122.00 L467.58,123.25 L468.52,123.25 L468.52,124.50 L469.00,124.50 L469.45,124.50 L469.45,125.70 L470.35,125.70 L470.35,126.90 L470.80,126.90 L471.15,126.90 L471.15,128.25 L471.85,128.25 L471.85,129.60 L472.20,129.60 L477.10,129.60 L477.10,129.60 L478.05,129.60 L478.05,131.60 L479.00,131.60 L479.15,131.60 L479.15,133.15 L479.45,133.15 L479.45,134.70 L479.60,134.70 L491.60,134.70 L491.60,134.70 L491.60,134.70 L491.60,148.30 L495.80,148.30 L495.80,148.30 L495.80,148.30 L495.80,176.10 L501.80,176.10 L501.80,176.10" fill="none" stroke="#b0072e" stroke-width="1.6"/>
<line x1="482.70" y1="133.10" x2="482.70" y2="136.30" stroke="#b0072e" stroke-width="1.0"/>
<line x1="484.50" y1="133.10" x2="484.50" y2="136.30" stroke="#b0072e" stroke-width="1.0"/>
<line x1="486.30" y1="133.10" x2="486.30" y2="136.30" stroke="#b0072e" stroke-width="1.0"/>
<line x1="488.80" y1="133.10" x2="488.80" y2="136.30" stroke="#b0072e" stroke-width="1.0"/>
<rect x="0" y="0" width="520" height="1.3" fill="#111"/><rect x="0" y="0" width="1.3" height="245" fill="#111"/><rect x="518.6" y="0" width="1.4" height="245" fill="#111"/><rect x="0" y="243.5" width="520" height="1.5" fill="#111"/>
</svg>
</body></html>
